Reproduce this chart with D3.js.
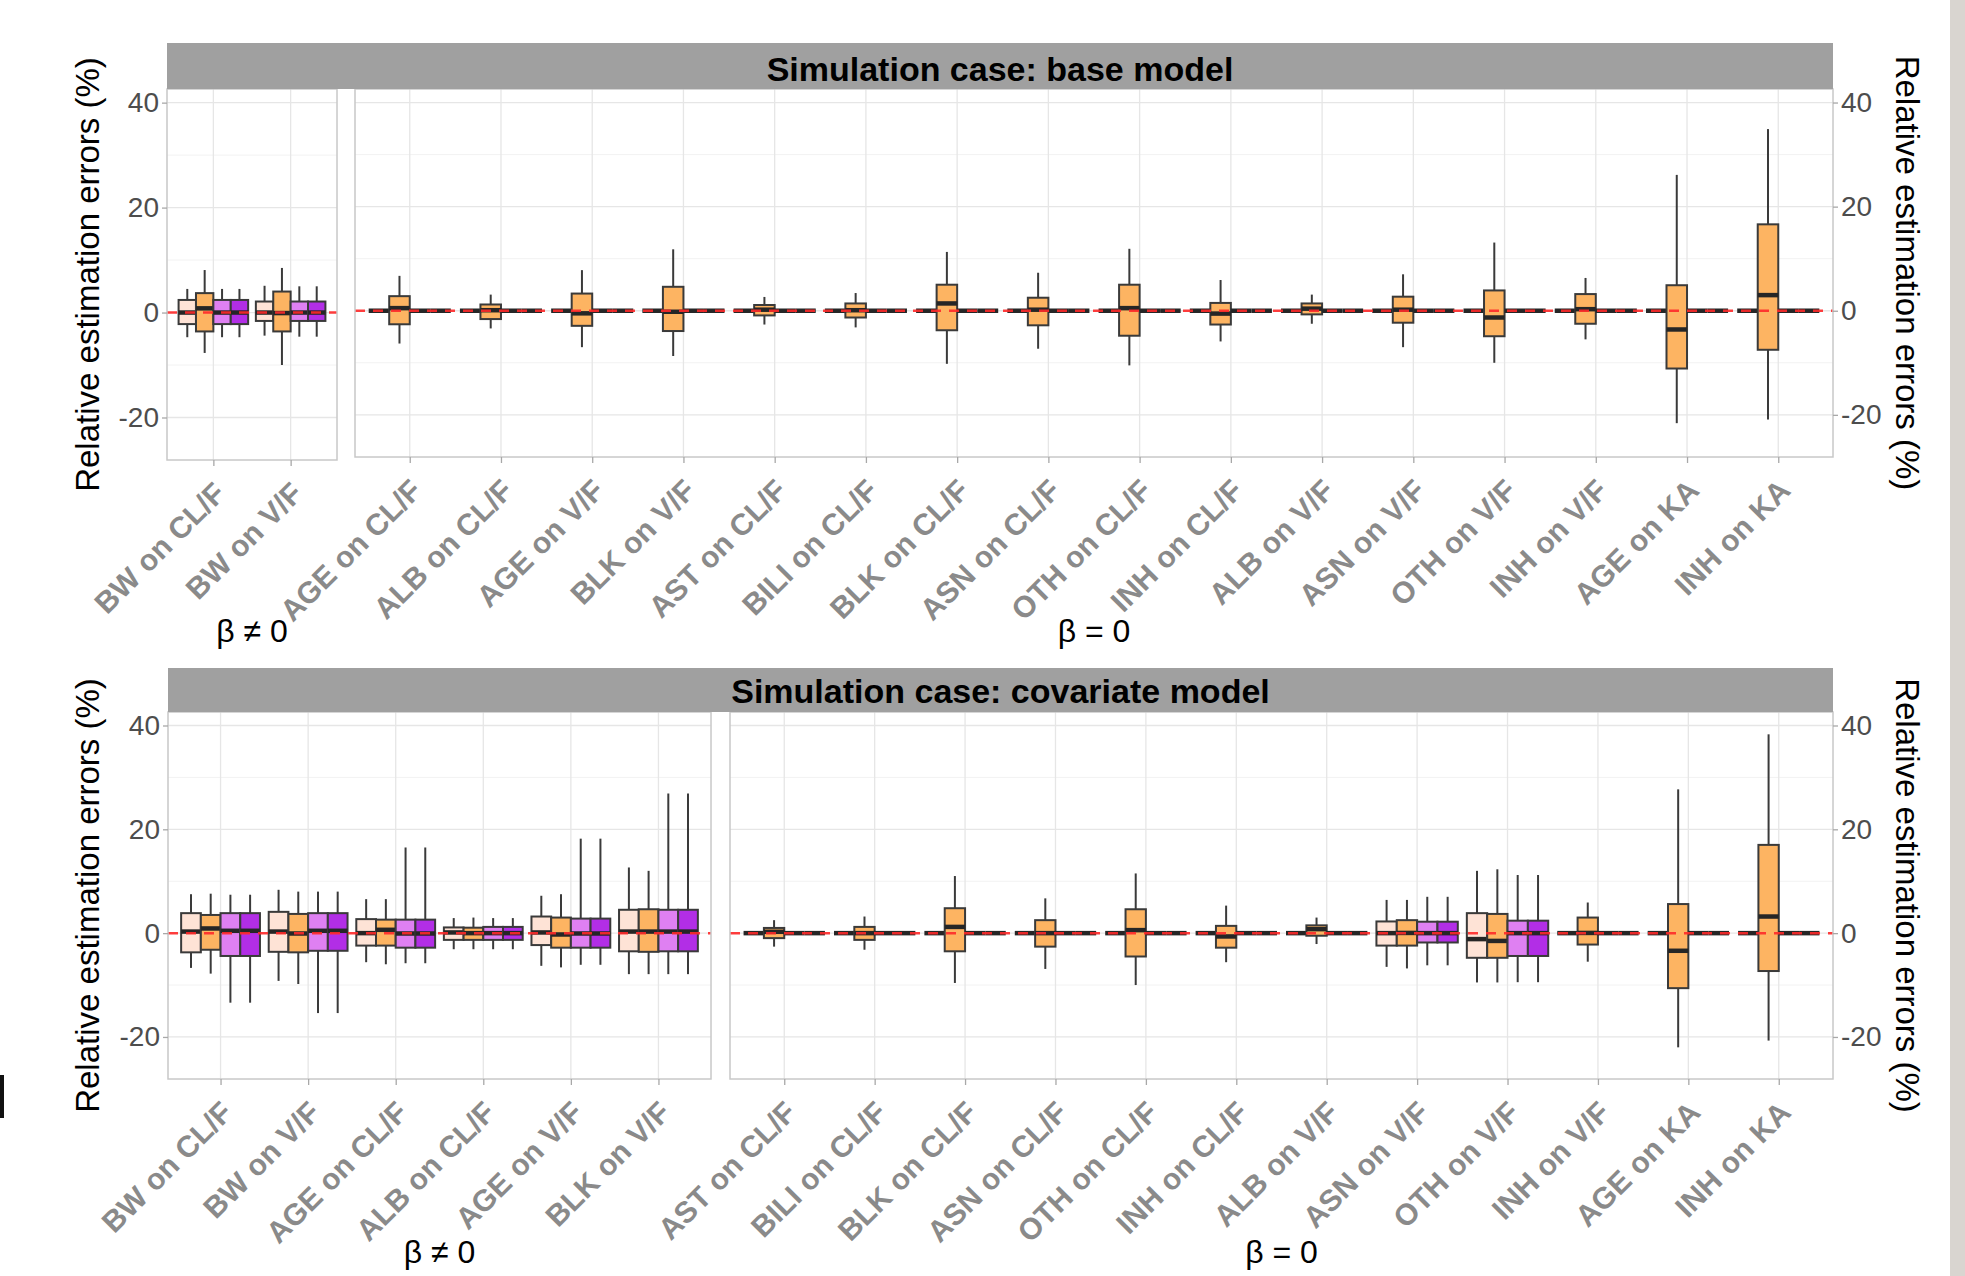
<!DOCTYPE html>
<html>
<head>
<meta charset="utf-8">
<script src="https://cdn.jsdelivr.net/npm/d3@7"></script>
<style>
  body { margin: 0; background: #ffffff; }
  svg { display: block; }
  text { font-family: "Liberation Sans", Arial, sans-serif; }
</style>
</head>
<body>
<svg id="chart" width="1965" height="1276"></svg>
<script>
// ================= DATA =================
// Each box: [lower whisker, Q1, median, Q3, upper whisker] (relative error, %)
const seriesKeys = ["method1", "method2", "method3", "method4"];
const seriesColors = ["#fee3d6", "#fdb462", "#df80f2", "#b22ee6"];
const yTicks = [-20, 0, 20, 40];
const yMinorTicks = [-10, 10, 30];
const yDomain = [-28.1, 42.6];

const stripTitles = ["Simulation case: base model", "Simulation case: covariate model"];
const betaLabels = ["\u03b2 \u2260 0", "\u03b2 = 0"];
const yTitle = "Relative estimation errors (%)";

// ---- base model, beta != 0 ----
const baseNZCats = ["BW on CL/F", "BW on V/F"];
const baseNZ_s1 = [[-4.7, -2.2, 0, 2.4, 4.5], [-4.4, -1.6, 0, 2.1, 5.1]];
const baseNZ_s2 = [[-7.7, -3.6, 0.8, 3.7, 8.1], [-10.0, -3.6, -0.1, 4.0, 8.5]];
const baseNZ_s3 = [[-4.7, -2.2, 0, 2.4, 4.5], [-4.6, -1.6, 0, 2.1, 5.0]];
const baseNZ_s4 = [[-4.7, -2.2, 0, 2.4, 4.5], [-4.6, -1.6, 0, 2.1, 5.0]];

// ---- base model, beta = 0 ----
const baseZCats = ["AGE on CL/F", "ALB on CL/F", "AGE on V/F", "BLK on V/F", "AST on CL/F",
  "BILI on CL/F", "BLK on CL/F", "ASN on CL/F", "OTH on CL/F", "INH on CL/F", "ALB on V/F",
  "ASN on V/F", "OTH on V/F", "INH on V/F", "AGE on KA", "INH on KA"];
const Z = [0, 0, 0, 0, 0];
const baseZ_s1 = [Z, Z, Z, Z, Z, Z, Z, Z, Z, Z, Z, Z, Z, Z, Z, Z];
const baseZ_s2 = [
  [-6.3, -2.6, 0.5, 2.8, 6.7],
  [-3.4, -1.6, 0.1, 1.2, 3.1],
  [-7.0, -2.9, -0.5, 3.3, 7.8],
  [-8.7, -3.9, -0.2, 4.6, 11.8],
  [-2.65, -0.9, 0.2, 1.1, 2.65],
  [-3.2, -1.3, 0.1, 1.4, 3.4],
  [-10.2, -3.75, 1.4, 5.0, 11.3],
  [-7.3, -2.8, 0.2, 2.5, 7.3],
  [-10.5, -4.8, 0.5, 5.0, 11.9],
  [-5.9, -2.65, -0.55, 1.5, 5.9],
  [-2.5, -0.7, 0.4, 1.4, 3.1],
  [-7.0, -2.3, 0.2, 2.7, 7.0],
  [-10.0, -4.9, -1.3, 3.9, 13.1],
  [-5.5, -2.5, 0.3, 3.2, 6.3],
  [-21.6, -11.1, -3.6, 4.9, 26.1],
  [-20.9, -7.5, 3.0, 16.6, 34.9]
];
const baseZ_s3 = [Z, Z, Z, Z, Z, Z, Z, Z, Z, Z, Z, Z, Z, Z, Z, Z];
const baseZ_s4 = [Z, Z, Z, Z, Z, Z, Z, Z, Z, Z, Z, Z, Z, Z, Z, Z];

// ---- covariate model, beta != 0 ----
const covNZCats = ["BW on CL/F", "BW on V/F", "AGE on CL/F", "ALB on CL/F", "AGE on V/F", "BLK on V/F"];
const covNZ_s1 = [
  [-6.7, -3.7, 0.3, 3.85, 7.5],
  [-9.2, -3.6, 0.3, 4.1, 8.35],
  [-5.6, -2.4, 0.0, 2.7, 6.55],
  [-3.1, -1.3, 0.13, 1.1, 2.9],
  [-6.3, -2.3, 0.13, 3.2, 7.2],
  [-7.9, -3.5, 0.3, 4.5, 12.65]
];
const covNZ_s2 = [
  [-7.8, -3.2, 0.9, 3.5, 7.6],
  [-9.8, -3.7, -0.07, 3.7, 8.0],
  [-6.0, -2.4, 0.64, 2.6, 6.55],
  [-3.1, -1.3, 0.0, 1.05, 3.0],
  [-6.6, -2.8, -0.26, 3.0, 7.5],
  [-7.9, -3.6, 0.3, 4.6, 12.0]
];
const covNZ_s3 = [
  [-13.4, -4.4, 0.45, 3.85, 7.4],
  [-15.4, -3.4, 0.45, 3.85, 8.0],
  [-5.8, -2.8, -0.07, 2.6, 16.5],
  [-3.1, -1.3, 0.0, 1.2, 2.9],
  [-6.1, -2.8, -0.07, 2.8, 18.2],
  [-7.9, -3.5, 0.3, 4.5, 26.9]
];
const covNZ_s4 = [
  [-13.4, -4.4, 0.45, 3.85, 7.4],
  [-15.4, -3.4, 0.45, 3.85, 8.0],
  [-5.8, -2.8, -0.07, 2.6, 16.5],
  [-3.1, -1.3, 0.0, 1.2, 2.9],
  [-6.1, -2.8, -0.07, 2.8, 18.2],
  [-7.9, -3.5, 0.3, 4.5, 26.9]
];

// ---- covariate model, beta = 0 ----
const covZCats = ["AST on CL/F", "BILI on CL/F", "BLK on CL/F", "ASN on CL/F", "OTH on CL/F",
  "INH on CL/F", "ALB on V/F", "ASN on V/F", "OTH on V/F", "INH on V/F", "AGE on KA", "INH on KA"];
const covZ_s1 = [Z, Z, Z, Z, Z, Z, Z,
  [-6.5, -2.4, 0.0, 2.25, 6.4],
  [-9.5, -4.75, -1.15, 3.85, 12.0],
  Z, Z, Z];
const covZ_s2 = [
  [-2.6, -0.96, 0.26, 1.0, 2.5],
  [-3.2, -1.3, 0.0, 1.2, 3.2],
  [-9.6, -3.5, 1.2, 4.8, 11.0],
  [-6.9, -2.6, 0.0, 2.5, 6.7],
  [-10.0, -4.5, 0.58, 4.6, 11.5],
  [-5.6, -2.8, -0.64, 1.4, 5.3],
  [-2.1, -0.5, 0.77, 1.5, 3.0],
  [-6.8, -2.4, 0.04, 2.5, 6.4],
  [-9.5, -4.75, -1.5, 3.7, 12.3],
  [-5.5, -2.2, 0.04, 3.0, 5.9],
  [-22.0, -10.6, -3.4, 5.6, 27.7],
  [-20.7, -7.3, 3.2, 17.0, 38.3]
];
const covZ_s3 = [Z, Z, Z, Z, Z, Z, Z,
  [-6.2, -1.8, 0.0, 2.2, 7.0],
  [-9.45, -4.4, 0.0, 2.4, 11.2],
  Z, Z, Z];
const covZ_s4 = [Z, Z, Z, Z, Z, Z, Z,
  [-6.2, -1.8, 0.0, 2.2, 7.0],
  [-9.45, -4.4, 0.0, 2.4, 11.2],
  Z, Z, Z];

// ================= LAYOUT =================
const panels = [
  { cats: baseNZCats, series: [baseNZ_s1, baseNZ_s2, baseNZ_s3, baseNZ_s4],
    x0: 167, x1: 337, yTop: 89, yBot: 460, left: true, right: false, beta: betaLabels[0], betaY: 642 },
  { cats: baseZCats, series: [baseZ_s1, baseZ_s2, baseZ_s3, baseZ_s4],
    x0: 355, x1: 1833, yTop: 89, yBot: 457, left: false, right: true, beta: betaLabels[1], betaY: 642 },
  { cats: covNZCats, series: [covNZ_s1, covNZ_s2, covNZ_s3, covNZ_s4],
    x0: 168, x1: 711, yTop: 712, yBot: 1079, left: true, right: false, beta: betaLabels[0], betaY: 1263 },
  { cats: covZCats, series: [covZ_s1, covZ_s2, covZ_s3, covZ_s4],
    x0: 730, x1: 1833, yTop: 712, yBot: 1079, left: false, right: true, beta: betaLabels[1], betaY: 1263 }
];
const strips = [
  { x0: 167, x1: 1833, y0: 43, y1: 89, title: stripTitles[0], base: 80.5 },
  { x0: 168, x1: 1833, y0: 668, y1: 712, title: stripTitles[1], base: 702.5 }
];

const svg = d3.select("#chart");
svg.append("rect").attr("width", 1965).attr("height", 1276).attr("fill", "#ffffff");

// decorative edges of the original picture
svg.append("rect").attr("x", 1950).attr("y", 0).attr("width", 15).attr("height", 1276).attr("fill", "#d9d5d0");
svg.append("rect").attr("x", 0).attr("y", 1075).attr("width", 4).attr("height", 43).attr("fill", "#111111");

const BOX_STROKE = "#3a3a3a";
const fmt = d => String(d).replace("\u2212", "-");

panels.forEach(p => {
  const g = svg.append("g");
  const y = d3.scaleLinear().domain(yDomain).range([p.yBot, p.yTop]);
  const x = d3.scalePoint().domain(p.cats).range([p.x0, p.x1]).padding(0.6);
  const step = x.step();
  const bw = step * 0.225;

  // background
  g.append("rect").attr("x", p.x0).attr("y", p.yTop).attr("width", p.x1 - p.x0)
    .attr("height", p.yBot - p.yTop).attr("fill", "#ffffff");

  // grid
  g.selectAll(".minor").data(yMinorTicks).join("line")
    .attr("x1", p.x0).attr("x2", p.x1).attr("y1", d => y(d)).attr("y2", d => y(d))
    .attr("stroke", "#f2f2f2").attr("stroke-width", 1);
  g.selectAll(".major").data(yTicks).join("line")
    .attr("x1", p.x0).attr("x2", p.x1).attr("y1", d => y(d)).attr("y2", d => y(d))
    .attr("stroke", "#e6e6e6").attr("stroke-width", 1.3);
  g.selectAll(".vgrid").data(p.cats).join("line")
    .attr("x1", d => x(d)).attr("x2", d => x(d)).attr("y1", p.yTop).attr("y2", p.yBot)
    .attr("stroke", "#e6e6e6").attr("stroke-width", 1.3);

  // boxes
  const boxes = [];
  p.cats.forEach((c, i) => {
    p.series.forEach((s, j) => {
      boxes.push({ cat: c, j: j, v: s[i], cx: x(c) + (j - 1.5) * bw });
    });
  });
  const bg = g.append("g");
  boxes.forEach(b => {
    const [lo, q1, med, q3, hi] = b.v;
    if (hi > q3) bg.append("line").attr("x1", b.cx).attr("x2", b.cx)
      .attr("y1", y(q3)).attr("y2", y(hi)).attr("stroke", BOX_STROKE).attr("stroke-width", 2);
    if (lo < q1) bg.append("line").attr("x1", b.cx).attr("x2", b.cx)
      .attr("y1", y(q1)).attr("y2", y(lo)).attr("stroke", BOX_STROKE).attr("stroke-width", 2);
    if (q3 > q1) bg.append("rect").attr("x", b.cx - bw / 2).attr("y", y(q3))
      .attr("width", bw).attr("height", y(q1) - y(q3))
      .attr("fill", seriesColors[b.j]).attr("stroke", BOX_STROKE).attr("stroke-width", 2);
    bg.append("line").attr("x1", b.cx - bw / 2).attr("x2", b.cx + bw / 2)
      .attr("y1", y(med)).attr("y2", y(med))
      .attr("stroke", "#262626").attr("stroke-width", 4.5);
  });

  // reference line at 0
  g.append("line").attr("x1", p.x0).attr("x2", p.x1).attr("y1", y(0)).attr("y2", y(0))
    .attr("stroke", "#ff2a2a").attr("stroke-width", 2.5).attr("stroke-dasharray", "10,8")
    .attr("opacity", 0.9);

  // border
  g.append("rect").attr("x", p.x0).attr("y", p.yTop).attr("width", p.x1 - p.x0)
    .attr("height", p.yBot - p.yTop).attr("fill", "none")
    .attr("stroke", "#c8c8c8").attr("stroke-width", 1.5);

  // y axes
  if (p.left) {
    const ax = g.append("g").attr("transform", `translate(${p.x0},0)`)
      .call(d3.axisLeft(y).tickValues(yTicks).tickFormat(fmt).tickSize(5).tickPadding(3));
    ax.select(".domain").remove();
    ax.selectAll(".tick line").attr("stroke", "#a8a8a8").attr("stroke-width", 1.3);
    ax.selectAll(".tick text").attr("font-size", 28).attr("fill", "#4d4d4d")
      .attr("font-family", "Liberation Sans, Arial, sans-serif");
    const cy = (p.yTop + p.yBot) / 2;
    svg.append("text").attr("transform", `translate(99,${cy}) rotate(-90)`)
      .attr("text-anchor", "middle").attr("font-size", 33).attr("fill", "#000")
      .text(yTitle);
  }
  if (p.right) {
    const ax = g.append("g").attr("transform", `translate(${p.x1},0)`)
      .call(d3.axisRight(y).tickValues(yTicks).tickFormat(fmt).tickSize(5).tickPadding(3));
    ax.select(".domain").remove();
    ax.selectAll(".tick line").attr("stroke", "#a8a8a8").attr("stroke-width", 1.3);
    ax.selectAll(".tick text").attr("font-size", 28).attr("fill", "#4d4d4d")
      .attr("font-family", "Liberation Sans, Arial, sans-serif");
    const cy = (p.yTop + p.yBot) / 2;
    svg.append("text").attr("transform", `translate(1896,${cy}) rotate(90)`)
      .attr("text-anchor", "middle").attr("font-size", 33).attr("fill", "#000")
      .text(yTitle);
  }

  // x axis
  const xa = g.append("g").attr("transform", `translate(0,${p.yBot})`)
    .call(d3.axisBottom(x).tickSize(6));
  xa.select(".domain").remove();
  xa.selectAll(".tick line").attr("stroke", "#a8a8a8").attr("stroke-width", 1.3);
  xa.selectAll(".tick text")
    .attr("x", 0).attr("y", 0).attr("dy", "0.72em")
    .attr("transform", "translate(-2,20) rotate(-45)")
    .attr("text-anchor", "end")
    .attr("font-size", 30).attr("font-weight", "bold").attr("fill", "#8a8a8a")
    .attr("font-family", "Liberation Sans, Arial, sans-serif");

  // beta label
  svg.append("text").attr("x", (p.x0 + p.x1) / 2).attr("y", p.betaY)
    .attr("text-anchor", "middle").attr("font-size", 32).attr("fill", "#000")
    .text(p.beta);
});

// strips
strips.forEach(s => {
  svg.append("rect").attr("x", s.x0).attr("y", s.y0).attr("width", s.x1 - s.x0)
    .attr("height", s.y1 - s.y0).attr("fill", "#a0a0a0");
  svg.append("text").attr("x", (s.x0 + s.x1) / 2).attr("y", s.base)
    .attr("text-anchor", "middle").attr("font-size", 34).attr("font-weight", "bold")
    .attr("fill", "#000").text(s.title);
});
</script>
</body>
</html>
